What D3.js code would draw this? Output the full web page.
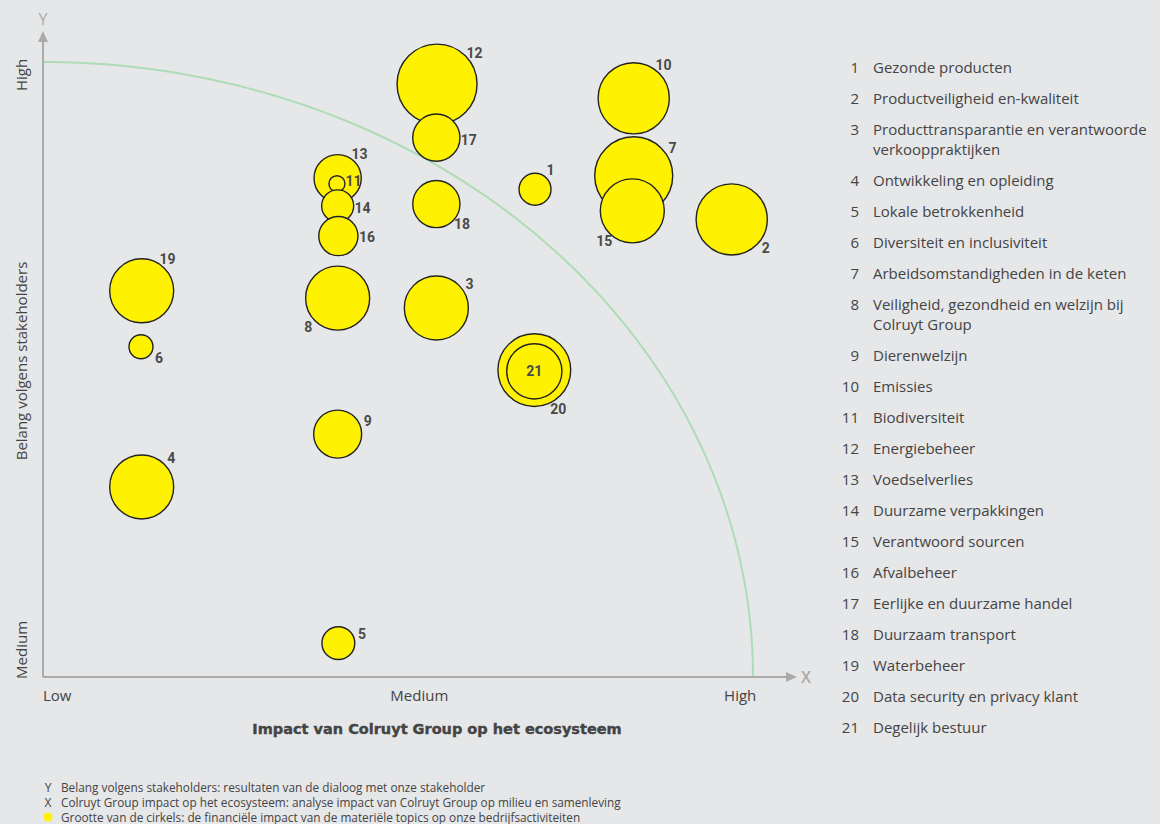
<!DOCTYPE html>
<html>
<head>
<meta charset="utf-8">
<script src="https://cdn.jsdelivr.net/npm/d3@7"></script>
<style>
  html, body { margin: 0; padding: 0; background: #e6e7e8; }
  svg { display: block; }
</style>
</head>
<body>
<div id="chart"></div>
<script>
// materialiteitsmatrix — bubbels op impact (x) vs belang (y)

const topicIds = [1, 2, 3, 4, 5, 6, 7, 8, 9, 10, 11, 12, 13, 14, 15, 16, 17, 18, 19, 20, 21]
const impactValues = [69.3, 97.0, 55.4, 13.9, 41.6, 13.8, 83.2, 41.5, 41.5, 83.2, 41.4, 55.5, 41.5, 41.5, 83.0, 41.6, 55.4, 55.4, 13.9, 69.2, 69.2]
const belangValues = [79.3, 74.4, 60.0, 30.9, 5.5, 53.7, 81.5, 61.6, 39.5, 94.1, 80.2, 96.4, 81.1, 76.6, 75.8, 71.7, 87.7, 76.9, 62.8, 49.9, 49.7]
const financialValues = [4.0, 8.9, 8.0, 8.0, 4.1, 3.0, 9.75, 8.0, 6.0, 8.9, 2.0, 10.0, 5.9, 4.0, 8.0, 4.9, 5.9, 5.9, 8.0, 9.1, 6.9]
// richting van het nummerlabel t.o.v. de bubbel (graden), null = midden
const labelAngles = [-52, 40, -36, -44, -21, 31, -36, 136, -24, -48, -11, -40, -48, 5, 133, 2, 4, 38, -51, 58, null]

const topicNames = [
  'Gezonde producten',
  'Productveiligheid en-kwaliteit',
  'Producttransparantie en verantwoorde verkooppraktijken',
  'Ontwikkeling en opleiding',
  'Lokale betrokkenheid',
  'Diversiteit en inclusiviteit',
  'Arbeidsomstandigheden in de keten',
  'Veiligheid, gezondheid en welzijn bij Colruyt Group',
  'Dierenwelzijn',
  'Emissies',
  'Biodiversiteit',
  'Energiebeheer',
  'Voedselverlies',
  'Duurzame verpakkingen',
  'Verantwoord sourcen',
  'Afvalbeheer',
  'Eerlijke en duurzame handel',
  'Duurzaam transport',
  'Waterbeheer',
  'Data security en privacy klant',
  'Degelijk bestuur',
]

const xTickValues = [0, 53, 98.2]
const xTickLabels = ['Low', 'Medium', 'High']
const yTickValues = [97.9, 4.4]
const yTickLabels = ['High', 'Medium']

const footnotes = [
  ['Y', 'Belang volgens stakeholders: resultaten van de dialoog met onze stakeholder'],
  ['X', 'Colruyt Group impact op het ecosysteem: analyse impact van Colruyt Group op milieu en samenleving'],
  ['dot', 'Grootte van de cirkels: de financiële impact van de materiële topics op onze bedrijfsactiviteiten'],
]

const W = 1160, H = 824
const textColor = '#444'
const axisColor = '#aaa'
const yellow = '#fff200'

const svg = d3.select('#chart')
  .append('svg')
  .attr('width', W)
  .attr('height', H)
  .style('background', '#e6e7e8')

const x = d3.scaleLinear().domain([0, 100]).range([43, 753])
const y = d3.scaleLinear().domain([0, 100]).range([677, 62])
const r = d3.scaleLinear().domain([0, 10]).range([0, 40])

// Threshold curve (quarter ellipse)
const arcPts = d3.range(0, 91, 1).map(a => [100 * Math.cos(a * Math.PI / 180), 100 * Math.sin(a * Math.PI / 180)])
svg.append('path')
  .attr('d', d3.line().x(d => x(d[0])).y(d => y(d[1]))(arcPts))
  .attr('fill', 'none')
  .attr('stroke', '#aedcb6')
  .attr('stroke-width', 2)

// Axes
const x0 = x(0), y0 = y(0)
svg.append('line')
  .attr('x1', x0).attr('y1', y0).attr('x2', x0).attr('y2', 40)
  .attr('stroke', axisColor).attr('stroke-width', 2)
svg.append('path')
  .attr('d', `M${x0 - 5},42 L${x0},31 L${x0 + 5},42 Z`)
  .attr('fill', axisColor)
svg.append('line')
  .attr('x1', x0).attr('y1', y0).attr('x2', 788).attr('y2', y0)
  .attr('stroke', axisColor).attr('stroke-width', 2)
svg.append('path')
  .attr('d', `M786,${y0 - 5} L797,${y0} L786,${y0 + 5} Z`)
  .attr('fill', axisColor)

svg.append('text')
  .attr('x', x0).attr('y', 19)
  .attr('text-anchor', 'middle')
  .attr('dominant-baseline', 'central')
  .style('font-family', 'Open Sans, sans-serif')
  .style('font-size', '16px')
  .style('fill', axisColor)
  .text('Y')
svg.append('text')
  .attr('x', 806).attr('y', y0)
  .attr('text-anchor', 'middle')
  .attr('dominant-baseline', 'central')
  .style('font-family', 'Open Sans, sans-serif')
  .style('font-size', '16px')
  .style('font-weight', '600')
  .style('fill', axisColor)
  .text('X')

// Tick labels
svg.append('g')
  .selectAll('text')
  .data(xTickValues)
  .join('text')
  .attr('x', d => x(d))
  .attr('y', 695)
  .attr('text-anchor', (d, i) => i === 0 ? 'start' : 'middle')
  .attr('dominant-baseline', 'central')
  .style('font-family', 'Open Sans, sans-serif')
  .style('font-size', '15px')
  .style('fill', textColor)
  .text((d, i) => xTickLabels[i])

svg.append('g')
  .selectAll('text')
  .data(yTickValues)
  .join('text')
  .attr('transform', d => `translate(21,${y(d)}) rotate(-90)`)
  .attr('text-anchor', 'middle')
  .attr('dominant-baseline', 'central')
  .style('font-family', 'Open Sans, sans-serif')
  .style('font-size', '15px')
  .style('fill', textColor)
  .text((d, i) => yTickLabels[i])

// Axis titles
svg.append('text')
  .attr('transform', 'translate(21,361) rotate(-90)')
  .attr('text-anchor', 'middle')
  .attr('dominant-baseline', 'central')
  .style('font-family', 'Open Sans, sans-serif')
  .style('font-size', '15px')
  .style('fill', textColor)
  .text('Belang volgens stakeholders')

svg.append('text')
  .attr('x', 437).attr('y', 729)
  .attr('text-anchor', 'middle')
  .attr('dominant-baseline', 'central')
  .style('font-family', 'DejaVu Sans, sans-serif')
  .style('font-weight', 'bold')
  .style('font-size', '14.5px')
  .style('fill', textColor)
  .style('stroke', textColor)
  .style('stroke-width', 0.4)
  .text('Impact van Colruyt Group op het ecosysteem')

// Bubbles
const topics = topicIds.map((id, i) => ({
  id,
  x: impactValues[i],
  y: belangValues[i],
  size: financialValues[i],
  angle: labelAngles[i],
}))
const drawOrder = topics.slice().sort((a, b) => b.y - a.y)

svg.append('g')
  .selectAll('circle')
  .data(drawOrder)
  .join('circle')
  .attr('cx', d => x(d.x))
  .attr('cy', d => y(d.y))
  .attr('r', d => r(d.size))
  .attr('fill', yellow)
  .attr('stroke', '#222')
  .attr('stroke-width', 1.4)

const gap = 9
svg.append('g')
  .selectAll('text')
  .data(topics)
  .join('text')
  .attr('x', d => {
    if (d.angle === null) return x(d.x)
    return x(d.x) + (r(d.size) + gap) * Math.cos(d.angle * Math.PI / 180)
  })
  .attr('y', d => {
    if (d.angle === null) return y(d.y)
    return y(d.y) + (r(d.size) + gap) * Math.sin(d.angle * Math.PI / 180)
  })
  .attr('text-anchor', 'middle')
  .attr('dominant-baseline', 'central')
  .style('font-family', 'Roboto, sans-serif')
  .style('font-weight', 'bold')
  .style('font-size', '14px')
  .style('fill', '#4a4a4a')
  .text(d => d.id)

// Legend
const legend = svg.append('g')
let ly = 67
topicIds.forEach((id, i) => {
  const row = legend.append('g')
  row.append('text')
    .attr('x', 859).attr('y', ly)
    .attr('text-anchor', 'end')
    .attr('dominant-baseline', 'central')
    .style('font-family', 'Open Sans, sans-serif')
    .style('font-size', '15px')
    .style('fill', textColor)
    .text(id)
  const t = row.append('text')
    .attr('x', 873).attr('y', ly)
    .attr('dominant-baseline', 'central')
    .style('font-family', 'Open Sans, sans-serif')
    .style('font-size', '15px')
    .style('fill', textColor)
  // word wrap
  const words = topicNames[i].split(' ')
  let line = []
  let tspan = t.append('tspan').attr('x', 873)
  let lines = 1
  words.forEach(w => {
    line.push(w)
    tspan.text(line.join(' '))
    if (tspan.node().getComputedTextLength() > 285 && line.length > 1) {
      line.pop()
      tspan.text(line.join(' '))
      line = [w]
      tspan = t.append('tspan').attr('x', 873).attr('dy', 20).text(w)
      lines++
    }
  })
  ly += 31 + (lines - 1) * 20
})

// Footnotes
const notes = svg.append('g')
footnotes.forEach((f, i) => {
  const fy = 787 + i * 15
  if (f[0] === 'dot') {
    notes.append('circle')
      .attr('cx', 48).attr('cy', fy).attr('r', 4.5)
      .attr('fill', yellow)
  } else {
    notes.append('text')
      .attr('x', 48).attr('y', fy)
      .attr('text-anchor', 'middle')
      .attr('dominant-baseline', 'central')
      .style('font-family', 'Open Sans, sans-serif')
      .style('font-size', '12px')
      .style('fill', textColor)
      .text(f[0])
  }
  notes.append('text')
    .attr('x', 61).attr('y', fy)
    .attr('dominant-baseline', 'central')
    .style('font-family', 'Open Sans, sans-serif')
    .style('font-size', '11.8px')
    .style('fill', textColor)
    .text(f[1])
})
</script>
</body>
</html>
